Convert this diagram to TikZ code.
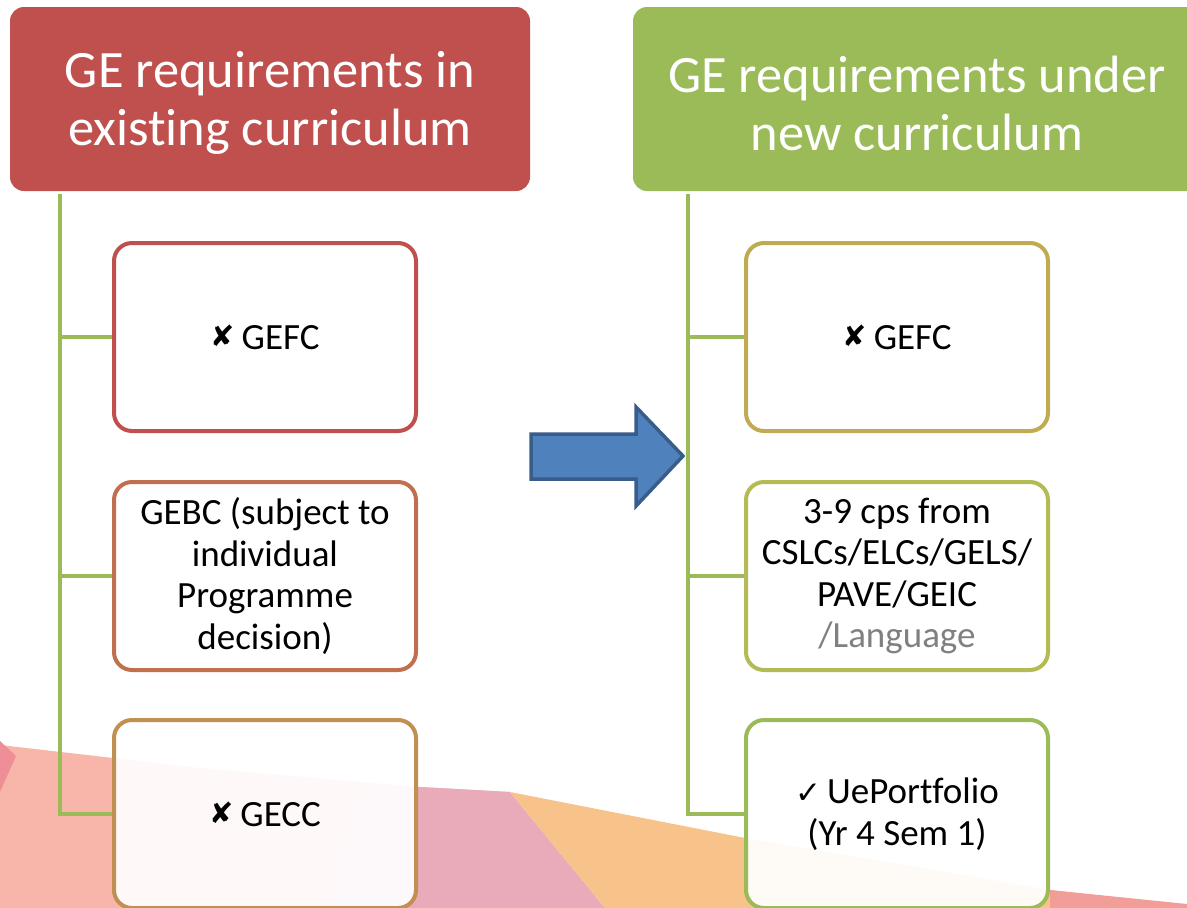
\documentclass[tikz,border=0pt]{standalone}
\usepackage{fontspec}
\setmainfont{Carlito}[Ligatures={NoCommon}]
\newfontfamily\symfont{DejaVu Sans}
\definecolor{accRed}{HTML}{C0504D}
\definecolor{accGreen}{HTML}{9BBB59}
\definecolor{edgeA}{HTML}{C0704F}
\definecolor{edgeB}{HTML}{C08F51}
\definecolor{edgeC}{HTML}{C0AA52}
\definecolor{edgeD}{HTML}{B4BB55}
\definecolor{arrowFill}{HTML}{4F81BD}
\definecolor{arrowEdge}{HTML}{385D8A}
\definecolor{bgSalmon}{HTML}{F7B6A9}
\definecolor{bgPink}{HTML}{E9AABA}
\definecolor{bgOrange}{HTML}{F8C28B}
\definecolor{bgRed}{HTML}{F29E98}
\definecolor{bgRose}{HTML}{F08E98}
\begin{document}
\begin{tikzpicture}[x=1pt,y=-1pt,
  header/.style={rectangle, rounded corners=14pt, minimum width=#1,
    minimum height=184pt, inner sep=0pt},
  headtext/.style={inner sep=0pt, text=white, align=center,
    font=\fontsize{52.5}{58}\selectfont},
  itembox/.style={rectangle, rounded corners=18pt, draw=#1, line width=4pt,
    fill=white, fill opacity=0.92, text opacity=1, minimum width=302pt,
    minimum height=188pt, inner sep=0pt, align=center,
    font=\fontsize{37}{41.5}\selectfont},
  tree/.style={draw=accGreen, line width=4.5pt},
  blockarrow/.style={fill=arrowFill, draw=arrowEdge, line width=3.5pt, line join=miter}
]
\newcommand{\crossmark}{\raisebox{3pt}{\symfont\fontsize{29}{29}\selectfont ✘}\hspace{7pt}}
\newcommand{\tickmark}{{\symfont\fontsize{31}{31}\selectfont ✓}\hspace{6pt}}
\useasboundingbox (0,0) rectangle (1187,908);
\clip (0,0) rectangle (1187,908);
\fill[white] (0,0) rectangle (1187,908);

% soft coloured band along the bottom edge
\fill[bgSalmon] (0,745) -- (200,768) -- (420,787) -- (510,792) -- (560,908) -- (0,908) -- cycle;
\fill[bgRose] (0,741) -- (16,756) -- (0,792) -- cycle;
\fill[bgPink] (360,792) -- (420,787) -- (510,792) -- (605,908) -- (330,908) -- cycle;
\fill[bgOrange] (510,792) -- (740,837) -- (1050,890) -- (1187,906) -- (1187,908) -- (605,908) -- cycle;
\fill[bgRed] (1050,890) -- (1187,904) -- (1187,908) -- (1050,908) -- cycle;

% column headings
\node[header=520pt, fill=accRed] (hL) at (270,99) {};
\node[header=568pt, fill=accGreen] (hR) at (917,99) {};
\node[headtext] (hLt) at ([yshift=-4pt]hL.center) {GE requirements in\\existing curriculum};
\node[headtext] (hRt) at ([yshift=-4pt]hR.center) {GE requirements under\\new curriculum};

% item boxes
\node[itembox=accRed] (L1) at (265,337) {\crossmark GEFC};
\node[itembox=edgeA] (L2) at (265,576)
  {GEBC (subject to\\individual\\Programme\\decision)};
\node[itembox=edgeB] (L3) at (265,814) {\crossmark GECC};
\node[itembox=edgeC] (R1) at (897,337) {\crossmark GEFC};
\node[itembox=edgeD] (R2) at (897,576)
  {3-9 cps from\\CSLCs/ELCs/GELS/\\PAVE/GEIC\\\textcolor{gray}{/Language}};
\node[itembox=accGreen] (R3) at (897,814)
  {\tickmark UePortfolio\\(Yr 4 Sem 1)};

% tree connectors
\foreach \b in {L1,L2,L3}
  \draw[tree] ([xshift=50pt,yshift=-3pt]hL.south west) |- (\b.west);
\foreach \b in {R1,R2,R3}
  \draw[tree] ([xshift=55pt,yshift=-3pt]hR.south west) |- (\b.west);

% block arrow between the columns
\draw[blockarrow] (531,434) -- (636,434) -- (636,407) -- (683,456)
  -- (636,506) -- (636,479) -- (531,479) -- cycle;
\end{tikzpicture}
\end{document}
